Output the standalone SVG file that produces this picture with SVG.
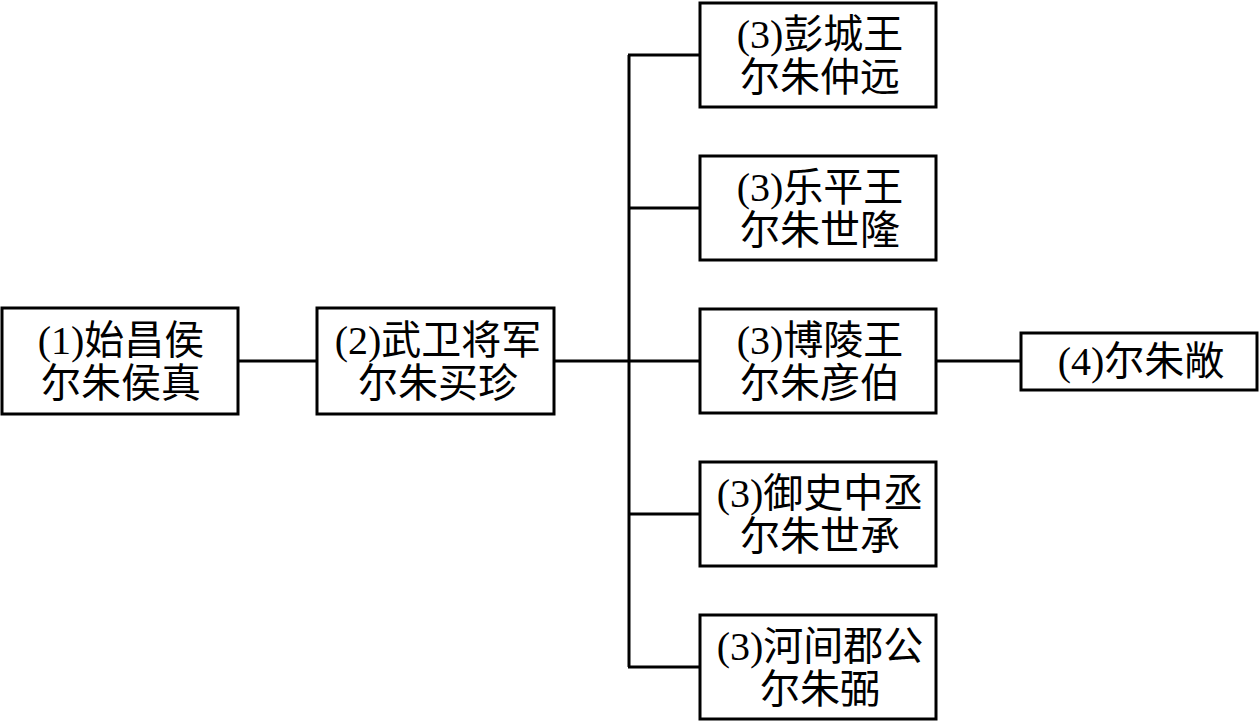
<svg xmlns="http://www.w3.org/2000/svg" width="1259" height="723" viewBox="0 0 1259 723">
<style>
rect{fill:#fff;stroke:#000;stroke-width:3}
.c line, .c polyline{stroke:#000;stroke-width:3;fill:none}
text{font-family:"Liberation Serif","Noto Sans CJK SC",serif;font-size:40px;fill:#000;text-anchor:middle;dominant-baseline:central}
</style>
<rect x="0" y="0" width="1259" height="723" style="stroke:none"/>
<g class="c">
<line x1="238" y1="361" x2="317" y2="361"/>
<line x1="554" y1="361" x2="700" y2="361"/>
<line x1="629" y1="55" x2="629" y2="667"/>
<line x1="628" y1="55" x2="700" y2="55"/>
<line x1="628" y1="208" x2="700" y2="208"/>
<line x1="628" y1="514" x2="700" y2="514"/>
<line x1="628" y1="667" x2="700" y2="667"/>
<line x1="936" y1="361" x2="1021" y2="361"/>
</g>
<g id="n1"><rect x="2" y="308" width="236" height="106"/><text x="121" y="340">(1)始昌侯</text><text x="121" y="383">尔朱侯真</text></g>
<g id="n2"><rect x="317" y="308" width="237" height="106"/><text x="438" y="340">(2)武卫将军</text><text x="438" y="383">尔朱买珍</text></g>
<g id="n3a"><rect x="700" y="3" width="236" height="104"/><text x="820" y="34">(3)彭城王</text><text x="820" y="77">尔朱仲远</text></g>
<g id="n3b"><rect x="700" y="156" width="236" height="104"/><text x="820" y="187">(3)乐平王</text><text x="820" y="230">尔朱世隆</text></g>
<g id="n3c"><rect x="700" y="309" width="236" height="104"/><text x="820" y="340">(3)博陵王</text><text x="820" y="383">尔朱彦伯</text></g>
<g id="n3d"><rect x="700" y="462" width="236" height="104"/><text x="820" y="493">(3)御史中丞</text><text x="820" y="536">尔朱世承</text></g>
<g id="n3e"><rect x="700" y="615" width="236" height="104"/><text x="820" y="646">(3)河间郡公</text><text x="820" y="689">尔朱弼</text></g>
<g id="n4"><rect x="1021" y="333" width="236" height="57"/><text x="1141" y="361">(4)尔朱敞</text></g>
</svg>
